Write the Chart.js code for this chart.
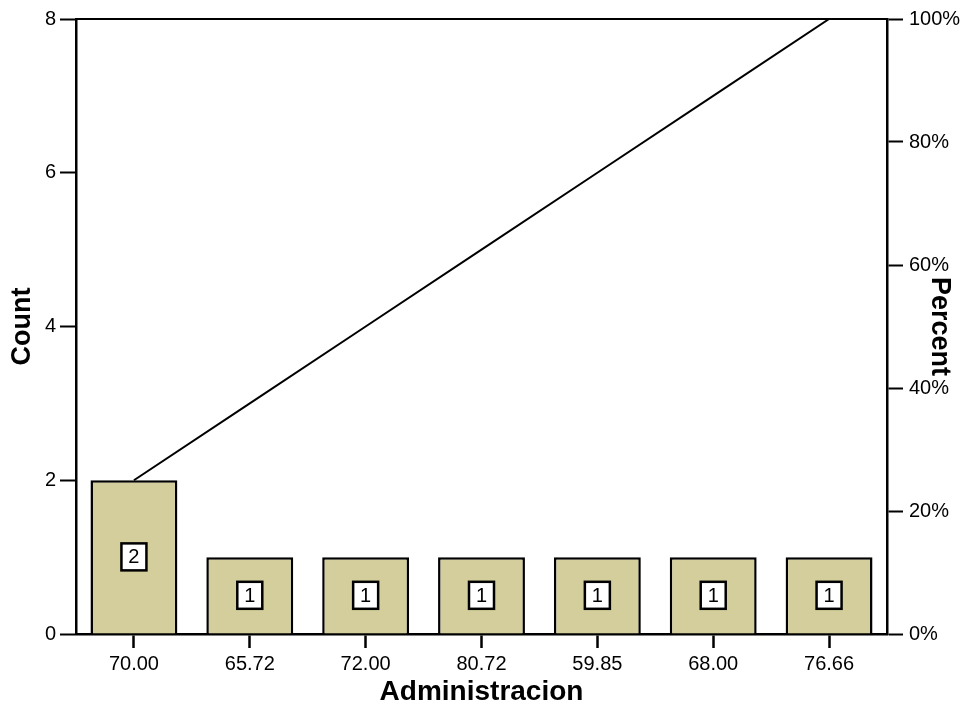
<!DOCTYPE html>
<html>
<head>
<meta charset="utf-8">
<script src="https://cdn.jsdelivr.net/npm/chart.js@4/dist/chart.umd.min.js"></script>
<style>
   html, body { margin: 0; padding: 0; background: #fff; }
   #wrap { width: 966px; height: 706px; }
</style>
</head>
<body>
<div id="wrap"><canvas id="chart"></canvas></div>
<script>
// Werte
const categories = ["70.00", "65.72", "72.00", "80.72", "59.85", "68.00", "76.66"];
const counts = [2, 1, 1, 1, 1, 1, 1];
const cumulativePercent = [25, 37.5, 50, 62.5, 75, 87.5, 100];
const countTicks = [0, 2, 4, 6, 8];
const percentTicks = [0, 20, 40, 60, 80, 100];

const FONT = "'Liberation Sans', Arial, sans-serif";

// Kästchen mit der Anzahl in der Mitte jedes Balkens
const barLabels = {
   id: "barLabels",
   afterDatasetsDraw(chart) {
      const ctx = chart.ctx;
      const meta = chart.getDatasetMeta(0);
      ctx.save();
      ctx.font = "20px " + FONT;
      ctx.textAlign = "center";
      ctx.textBaseline = "middle";
      meta.data.forEach((bar, i) => {
         const text = String(counts[i]);
         const m = ctx.measureText(text);
         const ink = m.actualBoundingBoxLeft + m.actualBoundingBoxRight;
         const w = Math.round(ink + 15);
         const h = 27;
         const cx = bar.x;
         const cy = (bar.y + bar.base) / 2;
         ctx.fillStyle = "#ffffff";
         ctx.fillRect(cx - w / 2, cy - h / 2, w, h);
         ctx.strokeStyle = "#000000";
         ctx.lineWidth = 2.5;
         ctx.strokeRect(cx - w / 2, cy - h / 2, w, h);
         ctx.fillStyle = "#000000";
         ctx.fillText(text, cx, cy + 1);
      });
      ctx.restore();
   },
};

// obere Rahmenlinie
const topBorder = {
   id: "topBorder",
   afterDraw(chart) {
      const { ctx, chartArea } = chart;
      ctx.save();
      ctx.strokeStyle = "#000000";
      ctx.lineWidth = 2;
      ctx.beginPath();
      ctx.moveTo(chartArea.left - 1, chartArea.top);
      ctx.lineTo(chartArea.right + 1, chartArea.top);
      ctx.stroke();
      ctx.restore();
   },
};

new Chart(document.getElementById("chart"), {
   data: {
      labels: categories,
      datasets: [
         {
            type: "bar",
            data: counts,
            backgroundColor: "#d3ce9b",
            borderColor: "#000000",
            borderWidth: 2.5,
            barPercentage: 0.75,
            categoryPercentage: 1,
            yAxisID: "y",
            order: 2,
         },
         {
            type: "line",
            data: cumulativePercent,
            borderColor: "#000000",
            borderWidth: 2,
            pointRadius: 0,
            tension: 0,
            fill: false,
            yAxisID: "y1",
            order: 1,
         },
      ],
   },
   options: {
      responsive: true,
      maintainAspectRatio: false,
      animation: false,
      layout: { padding: { top: 19, left: 0, right: 0, bottom: 0 } },
      plugins: {
         legend: { display: false },
         tooltip: { enabled: false },
      },
      scales: {
         x: {
            offset: true,
            grid: {
               offset: false,
               drawOnChartArea: false,
               tickLength: 14,
               tickColor: "#000000",
               tickWidth: 2.5,
            },
            border: { display: true, color: "#000000", width: 2.5 },
            ticks: {
               color: "#000000",
               font: { family: FONT, size: 20 },
               padding: 4,
               maxRotation: 0,
            },
            title: {
               display: true,
               text: "Administracion",
               color: "#000000",
               font: { family: FONT, size: 28, weight: "bold", lineHeight: 1 },
               padding: { top: 0, bottom: 0 },
            },
            afterFit(scale) {
               scale.height = 72;
            },
         },
         y: {
            position: "left",
            min: 0,
            max: 8,
            afterBuildTicks(scale) {
               scale.ticks = countTicks.map((v) => ({ value: v }));
            },
            grid: {
               drawOnChartArea: false,
               tickLength: 16,
               tickColor: "#000000",
               tickWidth: 2,
            },
            border: { display: true, color: "#000000", width: 2.5 },
            ticks: {
               color: "#000000",
               font: { family: FONT, size: 20 },
               padding: 4,
            },
            title: {
               display: true,
               text: "Count",
               color: "#000000",
               font: { family: FONT, size: 27, weight: "bold", lineHeight: 1 },
               padding: { top: 9, bottom: 0 },
            },
            afterFit(scale) {
               scale.width = 76;
            },
         },
         y1: {
            position: "right",
            min: 0,
            max: 100,
            afterBuildTicks(scale) {
               scale.ticks = percentTicks.map((v) => ({ value: v }));
            },
            grid: {
               drawOnChartArea: false,
               tickLength: 16,
               tickColor: "#000000",
               tickWidth: 2,
            },
            border: { display: true, color: "#000000", width: 2.5 },
            ticks: {
               color: "#000000",
               font: { family: FONT, size: 20 },
               padding: 6,
               callback: (v) => v + "%",
            },
            title: {
               display: true,
               text: "Percent",
               color: "#000000",
               font: { family: FONT, size: 27, weight: "bold", lineHeight: 1 },
               padding: { top: 13, bottom: 0 },
            },
            afterFit(scale) {
               scale.width = 79;
            },
         },
      },
   },
   plugins: [barLabels, topBorder],
});
</script>
</body>
</html>
